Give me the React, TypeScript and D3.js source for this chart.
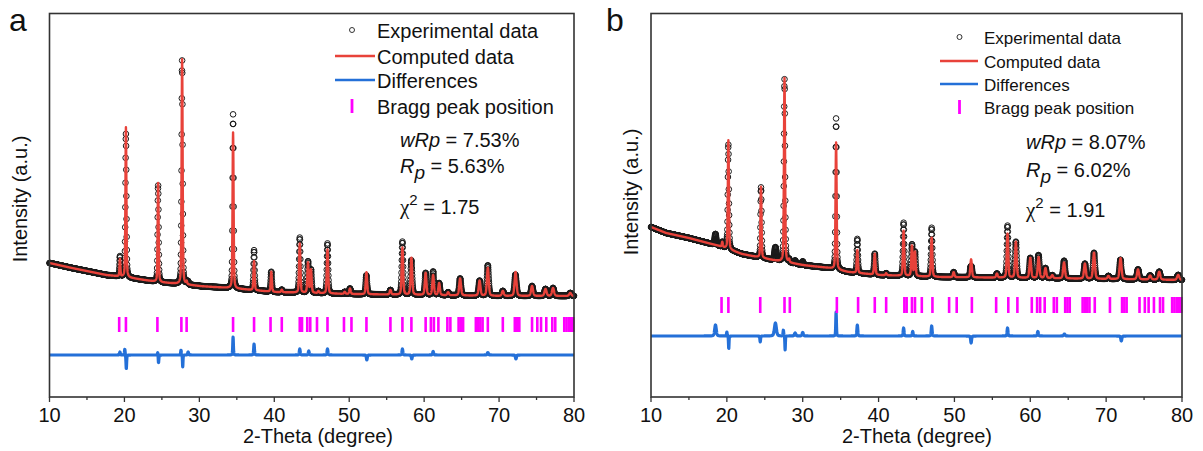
import React from "react";
import * as d3 from "d3";

const FONT = "'Liberation Sans', Arial, Helvetica, sans-serif";

// ---------- shared axis data ----------
const xMajorTicks = [10, 20, 30, 40, 50, 60, 70, 80];
const xMinorTicks = [15, 25, 35, 45, 55, 65, 75];
const legendLabels = ["Experimental data", "Computed data", "Differences", "Bragg peak position"];

// Bragg reflection positions (2-theta, degree)
const braggPositions = [
  19.3, 20.2, 24.4, 27.6, 28.3, 34.5, 37.3, 39.5, 41.0, 43.4, 43.7, 44.4, 44.8, 45.7, 47.1,
  49.3, 50.3, 52.3, 55.5, 57.1, 58.3, 60.2, 60.9, 61.3, 61.9, 63.1, 63.5, 64.6, 64.9, 65.2,
  66.9, 67.2, 67.5, 67.8, 68.5, 70.5, 72.1, 72.4, 72.7, 74.4, 75.1, 75.6, 76.3, 77.1, 77.5,
  78.7, 79.0, 79.3, 79.6, 79.9,
];

// ---------- panel a ----------
const bgThetaA = [10, 13, 17.6, 20, 24.5, 30, 34, 40, 50, 60, 70, 80];
const bgCountsA = [1340, 1290, 1220, 1200, 1150, 1110, 1090, 1050, 1030, 1020, 1010, 1010];
const peakPosA = [19.4, 20.2, 24.5, 27.7, 28.3, 34.5, 37.3, 39.6, 41.0, 43.4, 44.5, 44.9, 45.9, 47.1, 49.4, 50.1, 52.3, 55.5, 57.1, 58.3, 60.2, 61.2, 62.0, 63.2, 64.8, 67.4, 68.5, 70.5, 72.2, 74.4, 76.2, 77.2, 79.5];
const peakHeightA = [170, 1500, 990, 2250, 30, 1560, 290, 200, 25, 490, 300, 230, 20, 440, 20, 55, 220, 45, 470, 370, 220, 200, 120, 30, 170, 150, 280, 50, 240, 100, 70, 80, 30];
const peakFwhmA = [0.14, 0.15, 0.15, 0.16, 0.16, 0.16, 0.18, 0.18, 0.2, 0.2, 0.2, 0.2, 0.2, 0.2, 0.22, 0.22, 0.22, 0.24, 0.22, 0.24, 0.25, 0.25, 0.25, 0.26, 0.28, 0.28, 0.28, 0.3, 0.3, 0.3, 0.32, 0.32, 0.34];
const diffPosA = [19.4, 20.05, 20.25, 24.45, 24.55, 27.55, 27.78, 28.5, 34.5, 37.3, 43.4, 44.6, 47.1, 52.35, 57.1, 58.35, 61.2, 68.5, 72.25];
const diffAmpA = [30, 60, -140, 30, -80, 50, -120, 30, 180, 110, 60, 40, 60, -50, 60, -40, 35, 25, -40];
const diffFwhmA = [0.12, 0.1, 0.1, 0.1, 0.1, 0.1, 0.08, 0.15, 0.1, 0.12, 0.14, 0.14, 0.14, 0.14, 0.14, 0.14, 0.16, 0.18, 0.16];
const statsA = ["7.53%", "5.63%", "1.75"];

// ---------- panel b ----------
const bgThetaB = [10, 12, 15, 19, 22, 26, 30, 33.5, 36, 40, 48, 60, 80];
const bgCountsB = [1700, 1640, 1590, 1510, 1430, 1370, 1320, 1290, 1250, 1220, 1200, 1190, 1170];
const peakPosB = [19.4, 20.2, 24.5, 27.6, 28.2, 34.4, 37.2, 39.5, 41.0, 43.3, 44.4, 44.8, 47.0, 49.9, 52.2, 55.6, 57.0, 58.1, 60.0, 61.1, 62.0, 62.9, 64.45, 67.2, 68.4, 70.3, 71.9, 74.2, 75.8, 77.0, 79.5];
const peakHeightB = [50, 1090, 710, 1840, 30, 1270, 230, 210, 20, 450, 300, 240, 390, 50, 180, 40, 440, 360, 200, 210, 100, 30, 160, 150, 260, 30, 210, 100, 40, 80, 50];
const peakFwhmB = [0.15, 0.16, 0.16, 0.17, 0.17, 0.17, 0.18, 0.2, 0.2, 0.2, 0.2, 0.2, 0.2, 0.22, 0.24, 0.24, 0.22, 0.24, 0.26, 0.26, 0.26, 0.26, 0.28, 0.28, 0.28, 0.3, 0.3, 0.3, 0.32, 0.32, 0.34];
const diffPosB = [18.5, 20.0, 20.25, 24.4, 26.4, 27.45, 27.68, 29.0, 30.0, 34.4, 37.2, 43.3, 44.5, 47.0, 52.2, 57.0, 61.0, 64.5, 72.0];
const diffAmpB = [110, 40, -130, -60, 130, 60, -140, 30, 35, 240, 110, 80, 45, 100, -70, 80, 45, 20, -50];
const diffFwhmB = [0.25, 0.1, 0.08, 0.1, 0.3, 0.1, 0.08, 0.2, 0.2, 0.1, 0.14, 0.14, 0.14, 0.14, 0.14, 0.14, 0.16, 0.2, 0.16];
const statsB = ["8.07%", "6.02%", "1.91"];

const RED = "#e8423a";
const BLUE = "#2470d8";
const MAGENTA = "#ff00ff";

function pv(dx: number, w: number) {
  const t2 = 4 * (dx / w) * (dx / w);
  return 0.35 / (1 + t2) + 0.65 * Math.exp(-Math.LN2 * t2);
}

function buildPattern(bgT: number[], bgC: number[], pP: number[], pH: number[], pW: number[], dP: number[], dA: number[], dW: number[]) {
  const bg = d3.scaleLinear().domain(bgT).range(bgC);
  const thetas = d3.range(0, 3501).map((i) => 10 + i * 0.02);
  return thetas.map((t) => {
    let c = bg(t);
    for (let k = 0; k < pP.length; k++) {
      const dx = t - pP[k];
      if (Math.abs(dx) < 15 * pW[k]) c += pH[k] * pv(dx, pW[k]);
    }
    let d = 0;
    for (let k = 0; k < dP.length; k++) {
      const dx = t - dP[k];
      if (Math.abs(dx) < 10 * dW[k]) d += dA[k] * pv(dx, dW[k]);
    }
    return { t, calc: c, obs: c + d, diff: d };
  });
}

type Cfg = {
  left: number; right: number; top: number; bottom: number;
  diffY: number; braggTop: number; braggBottom: number;
  label: string; labelX: number;
  yTitleX: number; yTitleY: number; xTitleX: number;
  legX: number; legLineX0: number; legLineX1: number; legMarkX: number;
  legY: number[]; legFont: number;
  statX: number; statY: number[];
  stats: string[];
  data: { t: number; calc: number; obs: number; diff: number }[];
};

function Panel({ cfg }: { cfg: Cfg }) {
  const x = d3.scaleLinear().domain([10, 80]).range([cfg.left, cfg.right]);
  const y = d3.scaleLinear().domain([0, 3840]).range([397, 13]);
  const diffBase = y.invert(cfg.diffY);
  const calcLine = d3.line<any>().x((d) => x(d.t)).y((d) => y(d.calc))(cfg.data) || "";
  const diffLine = d3.line<any>().x((d) => x(d.t)).y((d) => y(diffBase + d.diff))(cfg.data) || "";
  const capOff = cfg.legFont * 0.36;
  return (
    <g fontFamily={FONT} fill="#111">
      <text x={cfg.labelX} y={31} fontSize={32}>{cfg.label}</text>
      {/* experimental points */}
      <g fill="none" stroke="#1a1a1a" strokeWidth={1}>
        {cfg.data.map((d, i) => (
          <circle key={i} cx={x(d.t)} cy={y(d.obs)} r={2.8} />
        ))}
      </g>
      <path d={calcLine} fill="none" stroke={RED} strokeWidth={2.4} strokeLinejoin="round" />
      <path d={diffLine} fill="none" stroke={BLUE} strokeWidth={3.2} strokeLinejoin="round" />
      <g stroke={MAGENTA} strokeWidth={2.6}>
        {braggPositions.map((p, i) => (
          <line key={i} x1={x(p)} x2={x(p)} y1={cfg.braggTop} y2={cfg.braggBottom} />
        ))}
      </g>
      {/* frame */}
      <rect x={cfg.left} y={cfg.top} width={cfg.right - cfg.left} height={cfg.bottom - cfg.top} fill="none" stroke="#333" strokeWidth={1.6} />
      <g stroke="#333" strokeWidth={1.3}>
        {xMajorTicks.map((t) => (
          <line key={t} x1={x(t)} x2={x(t)} y1={cfg.bottom} y2={cfg.bottom + 5} />
        ))}
        {xMinorTicks.map((t) => (
          <line key={t} x1={x(t)} x2={x(t)} y1={cfg.bottom} y2={cfg.bottom + 3} />
        ))}
      </g>
      <g fontSize={20} textAnchor="middle">
        {xMajorTicks.map((t) => (
          <text key={t} x={x(t)} y={422}>{t}</text>
        ))}
      </g>
      <text x={cfg.xTitleX} y={443} fontSize={20} textAnchor="middle">2-Theta (degree)</text>
      <text transform={`translate(${cfg.yTitleX},${cfg.yTitleY}) rotate(-90)`} fontSize={20} textAnchor="middle">Intensity (a.u.)</text>
      {/* legend */}
      <circle cx={cfg.legMarkX} cy={cfg.legY[0]} r={2.5} fill="none" stroke="#333" strokeWidth={1} />
      <line x1={cfg.legLineX0} x2={cfg.legLineX1} y1={cfg.legY[1]} y2={cfg.legY[1]} stroke={RED} strokeWidth={2.6} />
      <line x1={cfg.legLineX0} x2={cfg.legLineX1} y1={cfg.legY[2]} y2={cfg.legY[2]} stroke={BLUE} strokeWidth={2.6} />
      <line x1={cfg.legMarkX} x2={cfg.legMarkX} y1={cfg.legY[3] - 7} y2={cfg.legY[3] + 7} stroke={MAGENTA} strokeWidth={2.8} />
      {legendLabels.map((l, i) => (
        <text key={l} x={cfg.legX} y={cfg.legY[i] + capOff * 1.0 + 1} fontSize={cfg.legFont}>{l}</text>
      ))}
      {/* statistics */}
      <text x={cfg.statX} y={cfg.statY[0]} fontSize={20}>
        <tspan fontStyle="italic">wRp</tspan>{" = " + cfg.stats[0]}
      </text>
      <text x={cfg.statX} y={cfg.statY[1]} fontSize={20}>
        <tspan fontStyle="italic">R</tspan>
        <tspan fontStyle="italic" dy={6} fontSize={19}>p</tspan>
        <tspan dy={-6}>{" = " + cfg.stats[1]}</tspan>
      </text>
      <text x={cfg.statX} y={cfg.statY[2]} fontSize={20}>
        <tspan fontFamily="'Liberation Serif', 'Times New Roman', serif" fontSize={21}>χ</tspan>
        <tspan dy={-9} fontSize={15}>2</tspan>
        <tspan dy={9}>{" = " + cfg.stats[2]}</tspan>
      </text>
    </g>
  );
}

export default function App() {
  const dataA = React.useMemo(() => buildPattern(bgThetaA, bgCountsA, peakPosA, peakHeightA, peakFwhmA, diffPosA, diffAmpA, diffFwhmA), []);
  const dataB = React.useMemo(() => buildPattern(bgThetaB, bgCountsB, peakPosB, peakHeightB, peakFwhmB, diffPosB, diffAmpB, diffFwhmB), []);
  const cfgA: Cfg = {
    left: 49.5, right: 574, top: 13.5, bottom: 397,
    diffY: 355, braggTop: 317, braggBottom: 332,
    label: "a", labelX: 9,
    yTitleX: 27, yTitleY: 199, xTitleX: 318,
    legX: 377, legLineX0: 335, legLineX1: 375, legMarkX: 352,
    legY: [30, 56, 80, 106], legFont: 20,
    statX: 400, statY: [147, 173, 214],
    stats: statsA, data: dataA,
  };
  const cfgB: Cfg = {
    left: 651, right: 1182, top: 13.5, bottom: 397,
    diffY: 336, braggTop: 297, braggBottom: 313,
    label: "b", labelX: 606,
    yTitleX: 638, yTitleY: 192, xTitleX: 917,
    legX: 984, legLineX0: 940, legLineX1: 978, legMarkX: 959.5,
    legY: [37, 61, 84, 107], legFont: 17,
    statX: 1026, statY: [149, 177, 217],
    stats: statsB, data: dataB,
  };
  return (
    <svg width={1203} height={451} style={{ position: "absolute", left: 0, top: 0, background: "#fff" }}>
      <rect x={0} y={0} width={1203} height={451} fill="#fff" />
      <Panel cfg={cfgA} />
      <Panel cfg={cfgB} />
    </svg>
  );
}
